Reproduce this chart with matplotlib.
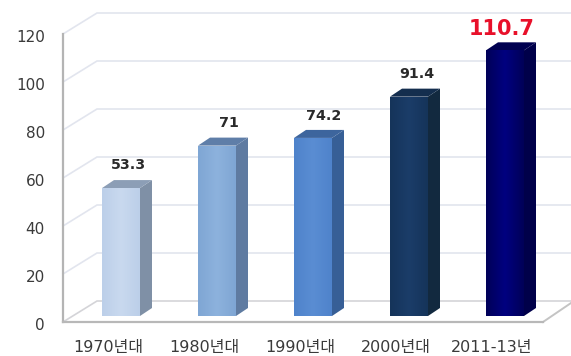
import matplotlib
matplotlib.use("Agg")
import matplotlib.pyplot as plt
import numpy as np
from matplotlib.colors import LinearSegmentedColormap
from matplotlib.patches import Polygon
from matplotlib.transforms import ScaledTranslation, offset_copy

plt.rcParams['font.family'] = ['DejaVu Sans', 'Noto Sans CJK KR']

categories = ['1970년대', '1980년대', '1990년대', '2000년대', '2011-13년']
values = [53.3, 71, 74.2, 91.4, 110.7]
value_labels = ['53.3', '71', '74.2', '91.4', '110.7']
y_ticks = [0, 20, 40, 60, 80, 100, 120]

face_edge = ['#bccfe9', '#7fa6d4', '#4f83cb', '#15345a', '#000058']
face_mid = ['#c9d9ef', '#8db2dd', '#5a8dd3', '#1b3d69', '#000080']
side_cols = ['#7f90a6', '#5f7ba1', '#375f96', '#12293f', '#00004a']
top_cols = ['#8c9eb6', '#5f7ea8', '#3d659d', '#142e4e', '#000050']
label_dx = [7, 12, 11, 8, -3]
label_dy = [23, 23, 22, 23, 21]

W, H, DPI = 571, 356, 100
PX_X = 96.0      # pixels per category
PX_Y = 2.4       # pixels per value unit
X0 = 121.0       # pixel of first bar centre
LEFT, BASE = 63.0, 322.0
BW = 38 / PX_X
WALL_DX, WALL_DY = 34 / PX_X, 21 / PX_Y
BAR_DX, BAR_DY = 12 / PX_X, 8 / PX_Y
BAR_UP = 6 / PX_Y

fig = plt.figure(figsize=(W / DPI, H / DPI), dpi=DPI, facecolor='white')
ax = fig.add_axes([LEFT / W, (H - BASE) / H, (W - LEFT) / W, BASE / H])
xmin, xmax = (LEFT - X0) / PX_X, (W - X0) / PX_X
ax.set_xlim(xmin, xmax)
ax.set_ylim(0, BASE / PX_Y)
ax.patch.set_visible(False)

# back wall gridlines and left wall diagonals
grid = '#e2e5ee'
for v in y_ticks:
    ax.plot([xmin, xmin + WALL_DX, xmax], [v, v + WALL_DY, v + WALL_DY],
            color=grid if v else '#d4d4d8', lw=1.2, clip_on=False, zorder=1,
            solid_joinstyle='miter')

# floor, right edge
floor_end = (543 - X0) / PX_X
ax.plot([floor_end, xmax], [0, 19 / PX_Y], color='#c4c4c4', lw=1.4, clip_on=False, zorder=1)

# bars
for i, v in enumerate(values):
    l, r = i - BW / 2, i + BW / 2
    b, t = BAR_UP, BAR_UP + v
    ax.add_patch(Polygon([(r, b), (r + BAR_DX, b + BAR_DY), (r + BAR_DX, t + BAR_DY), (r, t)],
                         fc=side_cols[i], ec='none', zorder=3))
    ax.add_patch(Polygon([(l, t), (r, t), (r + BAR_DX, t + BAR_DY), (l + BAR_DX, t + BAR_DY)],
                         fc=top_cols[i], ec='none', zorder=3))
    rect = ax.bar(i, v, BW, bottom=b, color=face_mid[i], zorder=3)[0]
    cmap = LinearSegmentedColormap.from_list('f', [face_edge[i], face_mid[i], face_edge[i]])
    im = ax.imshow(np.linspace(0, 1, 64).reshape(1, -1), cmap=cmap, extent=(l, r, b, t),
                   aspect='auto', zorder=3.1, interpolation='bilinear')
    im.set_clip_path(rect)
    tr = offset_copy(ax.transData, fig=fig, x=label_dx[i], y=label_dy[i], units='dots')
    last = i == len(values) - 1
    ax.text(i, t, value_labels[i], transform=tr, ha='center', va='center',
            fontsize=15 if last else 10.3, fontweight='bold',
            color='#e8102a' if last else '#2a2a2a', zorder=5, clip_on=False)
ax.set_xlim(xmin, xmax)
ax.set_ylim(0, BASE / PX_Y)

# axes
for s in ('top', 'right'):
    ax.spines[s].set_visible(False)
ax.spines['left'].set_bounds(0, 120)
ax.spines['left'].set_color('#b4b4b4')
ax.spines['left'].set_linewidth(1.6)
ax.spines['bottom'].set_bounds(xmin, floor_end)
ax.spines['bottom'].set_color('#b8b8b8')
ax.spines['bottom'].set_linewidth(1.6)
ax.spines['left'].set_zorder(4)
ax.spines['bottom'].set_zorder(4)

ax.set_yticks(y_ticks)
ax.set_yticklabels([str(v) for v in y_ticks], fontsize=11, color='#3a3a3a')
ax.tick_params(axis='y', length=0, pad=13)
for lab in ax.get_yticklabels():
    lab.set_transform(lab.get_transform() + ScaledTranslation(0, -2 / DPI, fig.dpi_scale_trans))

ax.set_xticks(np.arange(len(categories)) - 13 / PX_X)
ax.set_xticklabels(categories, fontsize=11.5, color='#3a3a3a',
                   family=['DejaVu Sans', 'Noto Sans CJK KR'])
ax.tick_params(axis='x', length=0, pad=13)

fig.savefig('out.png', dpi=DPI, facecolor='white')
